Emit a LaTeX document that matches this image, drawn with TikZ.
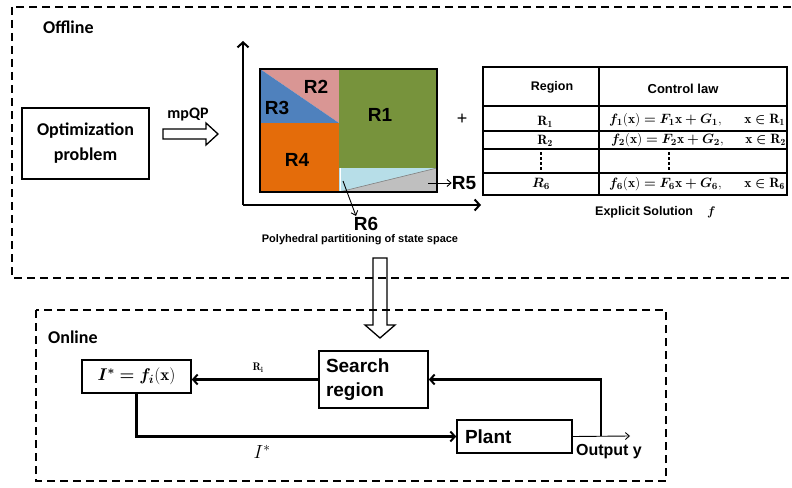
\RequirePackage{fix-cm}
\documentclass[tikz,border=0pt]{standalone}
\usepackage{bm}
\usepackage{fontspec}
\usetikzlibrary{arrows.meta}
\newfontfamily\calfont{Carlito}
\newfontfamily\arfont{Liberation Sans}
\definecolor{rone}{HTML}{77933C}
\definecolor{rtwo}{HTML}{D99694}
\definecolor{rthree}{HTML}{4F81BD}
\definecolor{rfour}{HTML}{E46C0A}
\definecolor{rfive}{HTML}{BFBFBF}
\definecolor{rsix}{HTML}{B7DEE8}
\begin{document}
\begin{tikzpicture}[x=1pt,y=-1pt,
  dashbox/.style={draw,line width=1.8pt,dash pattern=on 8pt off 5pt},
  blk/.style={draw,line width=1.6pt,inner sep=0pt},
  conn/.style={line width=2.2pt,-{Straight Barb[length=4.5pt,width=10pt,line width=2pt]}},
  thinarr/.style={line width=0.9pt,-{Straight Barb[length=4pt,width=7pt]}},
  axis/.style={line width=2pt,-{Straight Barb[length=5pt,width=11pt,line width=2pt]}},
  hollow/.style={draw,line width=1.3pt},
  calb/.style={font=\calfont\bfseries\fontsize{18}{21}\selectfont},
  arb/.style={font=\arfont\bfseries\fontsize{19}{21}\selectfont},
  rlab/.style={font=\arfont\bfseries\fontsize{19}{21}\selectfont,inner sep=0pt},
  tab/.style={font=\fontsize{13.5}{15}\selectfont,inner sep=0pt}]
\useasboundingbox (0,0) rectangle (792,487);

% dashed frames
\draw[dashbox] (12,7) rectangle (800,278);
\draw[dashbox] (36,310) rectangle (666,481);

% ---------- Offline ----------
\node[calb,anchor=west,inner sep=0pt] (offl) at (43,27) {Offline};
\node[blk,calb,minimum width=127,minimum height=71,align=center] (opt) at (85.5,143.5) {Optimization\\[4pt]problem};
\node[calb,font=\calfont\bfseries\fontsize{16}{18}\selectfont,inner sep=0pt] (mpqp) at (188,115) {mpQP};
\draw[hollow] (163,129) -- (206,129) -- (206,123) -- (218,134) -- (206,145) -- (206,139) -- (163,139) -- cycle;

% axes
\coordinate (orig) at (243,205);
\coordinate (ytop) at (243,41);
\coordinate (xend) at (481,205);
\draw[axis] (orig) -- (ytop);
\draw[axis] (orig) -- (xend);

% regions
\fill[rtwo] (260,69) -- (339,69) -- (339,123) -- cycle;
\fill[rthree] (260,69) -- (339,123) -- (260,123) -- cycle;
\fill[rfour] (260,123) rectangle (339,192);
\fill[rone] (339,69) rectangle (437,168);
\fill[rsix] (339,168) rectangle (437,192);
\fill[rfive] (339,192) -- (437,168) -- (437,192) -- cycle;
\draw[gray,line width=0.6pt] (339,192) -- (437,168);
\draw[white,line width=1pt] (340.5,168) -- (340.5,191);
\draw[line width=2.6pt] (260,69) rectangle (437,192);

\node[rlab] (r2) at (316,87) {R2};
\node[rlab] (r3) at (277,108) {R3};
\node[rlab] (r1) at (380,115) {R1};
\node[rlab] (r4) at (297,160) {R4};
\node[rlab] (r5) at (464,183) {R5};
\node[rlab] (r6) at (366,224) {R6};
\coordinate (r5s) at (428,183);
\coordinate (r6s) at (343,181);
\draw[thinarr] (r5s) -- (r5.west);
\draw[thinarr] (r6s) -- (356,216);
\node[font=\arfont\bfseries\fontsize{11}{13}\selectfont,inner sep=0pt] (poly) at (360,240) {Polyhedral partitioning of state space};
\node[font=\arfont\fontsize{18}{20}\selectfont,inner sep=0pt] (plus) at (462,119) {+};

% table
\draw[line width=1.4pt] (483,67) rectangle (787,195);
\draw[line width=1.2pt] (483,106) -- (787,106);
\draw[line width=1.2pt] (483,131) -- (787,131);
\draw[line width=1.2pt] (483,149) -- (787,149);
\draw[line width=1.2pt] (483,173) -- (787,173);
\draw[line width=1.2pt] (599,67) -- (599,195);
\draw[line width=1.3pt,dash pattern=on 3pt off 2pt] (541,152) -- (541,171);
\draw[line width=1.3pt,dash pattern=on 3pt off 2pt] (669,152) -- (669,171);
\node[font=\arfont\bfseries\fontsize{12.5}{14}\selectfont,inner sep=0pt] (hreg) at (552,87) {Region};
\node[font=\arfont\bfseries\fontsize{13}{15}\selectfont,inner sep=0pt] (hlaw) at (683,89) {Control law};
\node[tab] (c11) at (545,122) {$\mathbf{R_1}$};
\node[tab] (c21) at (545,141) {$\mathbf{R_2}$};
\node[tab] (c61) at (541,184) {$\bm{R_6}$};
\node[tab,anchor=west] (f1) at (609,120) {$\bm{f_1}(\mathbf{x}) \bm{=} \bm{F_1}\mathbf{x}\bm{+}\bm{G_1},$};
\node[tab,anchor=west] (f2) at (611,140) {$\bm{f_2}(\mathbf{x}) \bm{=} \bm{F_2}\mathbf{x}\bm{+}\bm{G_2},$};
\node[tab,anchor=west] (f6) at (609,184) {$\bm{f_6}(\mathbf{x}) \bm{=} \bm{F_6}\mathbf{x}\bm{+}\bm{G_6},$};
\node[tab,anchor=east] (x1) at (785,120) {$\mathbf{x}\bm{\in}\mathbf{R_1}$};
\node[tab,anchor=east] (x2) at (786,140) {$\mathbf{x}\bm{\in}\mathbf{R_2}$};
\node[tab,anchor=east] (x6) at (785,184) {$\mathbf{x}\bm{\in}\mathbf{R_6}$};
\node[font=\arfont\bfseries\fontsize{12.5}{14}\selectfont,inner sep=0pt,anchor=west] (expl) at (595,212) {Explicit Solution\hspace{14pt}$\bm{f}$};

% down hollow arrow
\draw[hollow] (373,258) -- (387,258) -- (387,325) -- (395,325) -- (380,338) -- (365,325) -- (373,325) -- cycle;

% ---------- Online ----------
\node[calb,anchor=west,inner sep=0pt] (onl) at (48,337) {Online};
\node[blk,minimum width=109,minimum height=33,font=\fontsize{17}{19}\selectfont] (istar) at (136.5,376.5) {$\bm{I^*} \bm{=} \bm{f_i}(\mathbf{x})$};
\node[blk,arb,minimum width=109,minimum height=57,text width=95,align=left] (search) at (373.5,379.5) {Search\\[3pt]region};
\node[blk,arb,minimum width=115,minimum height=33,text width=99,align=left] (plant) at (514.5,436.5) {Plant};
\coordinate (outend) at (630,436);
\coordinate (fb) at (601,436);
\draw[conn] (search.west) -- (search.west -| istar.east);
\node[font=\fontsize{11}{13}\selectfont,inner sep=0pt] (ri) at (258,368) {$\mathbf{R_i}$};
\draw[conn] (istar.south) |- (plant.west);
\node[font=\fontsize{19}{21}\selectfont,inner sep=0pt] (il) at (262,452) {$I^*$};
\draw[thinarr] (plant.east) -- (outend);
\draw[conn] (fb) |- (search.east);
\node[font=\arfont\bfseries\fontsize{16}{18}\selectfont,inner sep=0pt] (outy) at (609,452) {Output y};
\end{tikzpicture}
\end{document}
